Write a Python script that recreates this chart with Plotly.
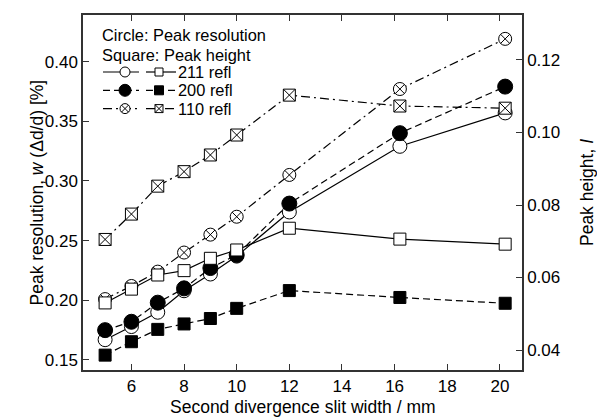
import plotly.graph_objects as go

# ---- data ----
slit = [5, 6, 7, 8, 9, 10, 12, 16.2, 20.2]
res_211 = [0.167, 0.178, 0.190, 0.208, 0.222, 0.237, 0.274, 0.329, 0.357]
res_200 = [0.175, 0.182, 0.198, 0.210, 0.227, 0.238, 0.281, 0.340, 0.379]
res_110 = [0.201, 0.212, 0.224, 0.240, 0.255, 0.270, 0.305, 0.377, 0.419]
ht_211 = [0.0530, 0.0568, 0.0607, 0.0619, 0.0653, 0.0676, 0.0736, 0.0706, 0.0692]
ht_200 = [0.0386, 0.0423, 0.0457, 0.0472, 0.0487, 0.0515, 0.0564, 0.0545, 0.0529]
ht_110 = [0.0705, 0.0775, 0.0852, 0.0892, 0.0938, 0.0993, 0.1103, 0.1073, 0.1067]
refl_labels = ["211 refl", "200 refl", "110 refl"]

FONT = "Liberation Sans, Arial, sans-serif"
FS_TICK = 17
FS_TITLE = 17.5
FS_LEG = 16.4
AX = "#333333"
DASH = "7px,4px"
DASHDOT = "9px,4px,2px,4px"

fig = go.Figure()

def add(x, y, axis, dash, symbol, size, fill):
    fig.add_trace(go.Scatter(
        x=x, y=y, yaxis=axis, mode="lines+markers", showlegend=False,
        line=dict(color="black", width=1.2, dash=dash),
        marker=dict(symbol=symbol, size=size, color=fill,
                    line=dict(color="black", width=1)),
        cliponaxis=False))

add(slit, res_211, "y", "solid", "circle", 14, "white")
add(slit, res_200, "y", DASH, "circle", 15, "black")
add(slit, res_110, "y", DASHDOT, "circle-x", 13, "white")
add(slit, ht_211, "y2", "solid", "square", 12, "white")
add(slit, ht_200, "y2", DASH, "square", 12, "black")
add(slit, ht_110, "y2", DASHDOT, "square-x", 12, "white")

# ---- custom legend on helper axes (pixel-like units within plot area) ----
rows_y = [57, 75.3, 93.6]
styles = [("solid", "circle", "square", "white", 10, 8),
          (DASH, "circle", "square", "black", 12, 9),
          (DASHDOT, "circle-x", "square-x", "white", 10, 8)]
for ry, (dash, csym, ssym, fill, cs, ss) in zip(rows_y, styles):
    fig.add_trace(go.Scatter(x=[20, 56], y=[ry, ry], xaxis="x3", yaxis="y3",
                             mode="lines", showlegend=False,
                             line=dict(color="black", width=1.2, dash=dash)))
    fig.add_trace(go.Scatter(x=[42], y=[ry], xaxis="x3", yaxis="y3",
                             mode="markers", showlegend=False,
                             marker=dict(symbol=csym, size=cs, color=fill,
                                         line=dict(color="black", width=1))))
    fig.add_trace(go.Scatter(x=[63, 93], y=[ry, ry], xaxis="x3", yaxis="y3",
                             mode="lines", showlegend=False,
                             line=dict(color="black", width=1.2, dash=dash)))
    fig.add_trace(go.Scatter(x=[76], y=[ry], xaxis="x3", yaxis="y3",
                             mode="markers", showlegend=False,
                             marker=dict(symbol=ssym, size=ss, color=fill,
                                         line=dict(color="black", width=1))))

annos = [dict(x=18, y=20, text="Circle: Peak resolution"),
         dict(x=18, y=40, text="Square: Peak height")]
for ry, lab in zip(rows_y, refl_labels):
    annos.append(dict(x=94, y=ry, text=lab))
for a in annos:
    a.update(xref="x3", yref="y3", xanchor="left", yanchor="middle",
             showarrow=False, borderpad=0,
             font=dict(family=FONT, size=FS_LEG, color="black"))

# axis titles as annotations for exact placement
PLOT_W, PLOT_L, PLOT_H, PLOT_B = 439, 83, 355, 370
annos.append(dict(xref="paper", yref="paper", x=(36 - PLOT_L) / PLOT_W, y=0.5,
                  xanchor="center", yanchor="middle", textangle=-90,
                  showarrow=False, borderpad=0,
                  text="Peak resolution, <i>w</i> (Δd/d) [%]",
                  font=dict(family=FONT, size=FS_TITLE, color="black")))
annos.append(dict(xref="paper", yref="paper", x=0.5, y=(PLOT_B - 418) / PLOT_H,
                  xanchor="center", yanchor="bottom",
                  showarrow=False, borderpad=0,
                  text="Second divergence slit width / mm",
                  font=dict(family=FONT, size=FS_TITLE, color="black")))

axis_common = dict(showline=True, linecolor=AX, linewidth=1.5, ticks="inside",
                   ticklen=6, tickcolor=AX, tickwidth=1.2, showgrid=False,
                   zeroline=False, automargin=False,
                   tickfont=dict(family=FONT, size=FS_TICK, color="black"))

fig.update_layout(
    width=597, height=419,
    margin=dict(l=83, r=75, t=15, b=49),
    paper_bgcolor="white", plot_bgcolor="white",
    font=dict(family=FONT, size=FS_TICK, color="black"),
    xaxis=dict(range=[4.16, 20.84], dtick=2, tick0=6, mirror="ticks",
               **axis_common),
    yaxis=dict(range=[0.1416, 0.439], dtick=0.05, tick0=0.15, tickformat=".2f",
               **axis_common),
    yaxis2=dict(range=[0.0345, 0.1324], dtick=0.02, tick0=0.04, tickformat=".2f",
                overlaying="y", side="right",
                title=dict(text="Peak height, <i>I</i>", standoff=22,
                           font=dict(family=FONT, size=FS_TITLE)),
                **axis_common),
    xaxis3=dict(range=[0, 439], overlaying="x", visible=False, fixedrange=True),
    yaxis3=dict(range=[355, 0], overlaying="y", visible=False, fixedrange=True),
    annotations=annos,
)

fig.write_html("out.html")
